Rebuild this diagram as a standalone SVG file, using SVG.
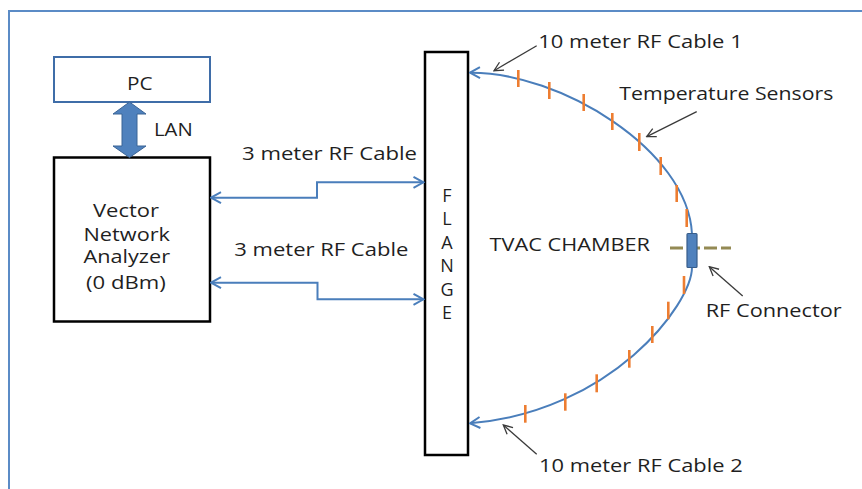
<svg xmlns="http://www.w3.org/2000/svg" width="862" height="489" viewBox="0 0 862 489">
  <style>
    .lbl { font-family: "Open Sans", "Liberation Sans", sans-serif; font-size: 18px; fill: #1f1f1f; }
    .flange { font-family: "Open Sans", "Liberation Sans", sans-serif; font-size: 18px; fill: #1f1f1f; text-anchor: middle; }
    .cable { fill: none; stroke: #4A7EBB; stroke-width: 2; }
    .note { fill: none; stroke: #3a3a3a; stroke-width: 1.3; }
    .tick { stroke: #ED7D31; stroke-width: 2.6; }
    .box { fill: #ffffff; stroke: #000000; stroke-width: 2.5; }
  </style>
  <defs>
    <marker id="blueHead" viewBox="0 0 12 14" refX="11" refY="7" markerWidth="12" markerHeight="14" markerUnits="userSpaceOnUse" orient="auto-start-reverse">
      <path d="M1,1.5 L11,7 L1,12.5" fill="none" stroke="#4A7EBB" stroke-width="2"/>
    </marker>
    <marker id="darkHead" viewBox="0 0 11 12" refX="10" refY="6" markerWidth="11" markerHeight="12" markerUnits="userSpaceOnUse" orient="auto">
      <path d="M1,1.5 L10,6 L1,10.5" fill="none" stroke="#3a3a3a" stroke-width="1.3"/>
    </marker>
  </defs>

  <rect x="0" y="0" width="862" height="489" fill="#ffffff"/>

  <g id="frame" fill="none" stroke="#5B8BC6" stroke-width="2">
    <path d="M9,489 L9,11 L862,11"/>
  </g>

  <g id="node-pc">
    <rect x="54" y="57" width="156" height="45" fill="#ffffff" stroke="#3F6DA8" stroke-width="2"/>
    <text class="lbl" x="127" y="90" textLength="25.6" lengthAdjust="spacingAndGlyphs">PC</text>
  </g>

  <g id="node-vna">
    <rect class="box" x="54" y="157.5" width="156" height="164"/>
    <text class="lbl" x="93" y="217.3" textLength="66" lengthAdjust="spacingAndGlyphs">Vector</text>
    <text class="lbl" x="83.5" y="240.7" textLength="86.5" lengthAdjust="spacingAndGlyphs">Network</text>
    <text class="lbl" x="83.5" y="263.3" textLength="86.5" lengthAdjust="spacingAndGlyphs">Analyzer</text>
    <text class="lbl" x="86" y="289.3" textLength="79.7" lengthAdjust="spacingAndGlyphs">(0 dBm)</text>
  </g>

  <g id="node-flange">
    <rect class="box" x="425" y="52" width="43" height="403"/>
    <text class="flange" x="447" y="201.7">F</text>
    <text class="flange" x="447" y="225.2">L</text>
    <text class="flange" x="447" y="248.7">A</text>
    <text class="flange" x="447" y="272.2">N</text>
    <text class="flange" x="447" y="295.7">G</text>
    <text class="flange" x="447" y="319.2">E</text>
  </g>

  <g id="node-chamber">
    <text class="lbl" x="489.5" y="250.7" textLength="160.5" lengthAdjust="spacingAndGlyphs">TVAC CHAMBER</text>
  </g>

  <g id="connectors">
    <!-- LAN block double arrow -->
    <path d="M129.5,102 L146,114 L137,114 L137,146 L146,146 L129.5,157.5 L113,146 L122,146 L122,114 L113,114 Z" fill="#4F81BD" stroke="#3A6496" stroke-width="1"/>
    <!-- 3 m cables -->
    <path class="cable" d="M211,197.7 L317,197.7 L317,182.3 L423.5,182.3" marker-start="url(#blueHead)" marker-end="url(#blueHead)"/>
    <path class="cable" d="M211,282.7 L317.5,282.7 L317.5,299.3 L423.5,299.3" marker-start="url(#blueHead)" marker-end="url(#blueHead)"/>
    <!-- 10 m cables -->
    <path class="cable" d="M470,72.7 C560,72 688,150 692,234" marker-start="url(#blueHead)"/>
    <path class="cable" d="M470,423.3 C610,412 692,305 692,267" marker-start="url(#blueHead)"/>
    <!-- annotation arrows -->
    <line class="note" x1="536.7" y1="45.7" x2="494" y2="70.7" marker-end="url(#darkHead)"/>
    <line class="note" x1="696.7" y1="111.7" x2="646.7" y2="136.7" marker-end="url(#darkHead)"/>
    <line class="note" x1="742.7" y1="296" x2="709.3" y2="266.7" marker-end="url(#darkHead)"/>
    <line class="note" x1="536.7" y1="454.3" x2="503.3" y2="425" marker-end="url(#darkHead)"/>
  </g>

  <g id="sensors">
    <line class="tick" x1="518.3" y1="70" x2="518.3" y2="87"/>
    <line class="tick" x1="549.3" y1="82" x2="549.3" y2="99"/>
    <line class="tick" x1="583.7" y1="94" x2="583.7" y2="111"/>
    <line class="tick" x1="612.3" y1="113" x2="612.3" y2="130"/>
    <line class="tick" x1="639.3" y1="133" x2="639.3" y2="151"/>
    <line class="tick" x1="660.7" y1="157" x2="660.7" y2="175"/>
    <line class="tick" x1="676.7" y1="185" x2="676.7" y2="202"/>
    <line class="tick" x1="686.7" y1="209" x2="686.7" y2="227"/>
    <line class="tick" x1="684" y1="276" x2="684" y2="294"/>
    <line class="tick" x1="668.3" y1="301.7" x2="668.3" y2="319.3"/>
    <line class="tick" x1="652.3" y1="326" x2="652.3" y2="343"/>
    <line class="tick" x1="629.3" y1="350" x2="629.3" y2="367.7"/>
    <line class="tick" x1="596.7" y1="374.3" x2="596.7" y2="392.3"/>
    <line class="tick" x1="565.3" y1="393.3" x2="565.3" y2="410.7"/>
    <line class="tick" x1="525.3" y1="405" x2="525.3" y2="422.7"/>
  </g>

  <g id="node-rf-connector">
    <line x1="670" y1="248" x2="731" y2="248" stroke="#948A54" stroke-width="3" stroke-dasharray="13,4"/>
    <rect x="687" y="233.5" width="10" height="34" rx="1" fill="#4F81BD" stroke="#385D8A" stroke-width="1.2"/>
  </g>

  <g id="labels">
    <text class="lbl" x="154" y="135.7" textLength="38.7" lengthAdjust="spacingAndGlyphs">LAN</text>
    <text class="lbl" x="242" y="160" textLength="175" lengthAdjust="spacingAndGlyphs">3 meter RF Cable</text>
    <text class="lbl" x="234.3" y="256" textLength="174" lengthAdjust="spacingAndGlyphs">3 meter RF Cable</text>
    <text class="lbl" x="538.3" y="48.3" textLength="204.4" lengthAdjust="spacingAndGlyphs">10 meter RF Cable 1</text>
    <text class="lbl" x="619.3" y="100" textLength="214" lengthAdjust="spacingAndGlyphs">Temperature Sensors</text>
    <text class="lbl" x="705.7" y="317.3" textLength="136" lengthAdjust="spacingAndGlyphs">RF Connector</text>
    <text class="lbl" x="539" y="471.7" textLength="203.7" lengthAdjust="spacingAndGlyphs">10 meter RF Cable 2</text>
  </g>
</svg>
